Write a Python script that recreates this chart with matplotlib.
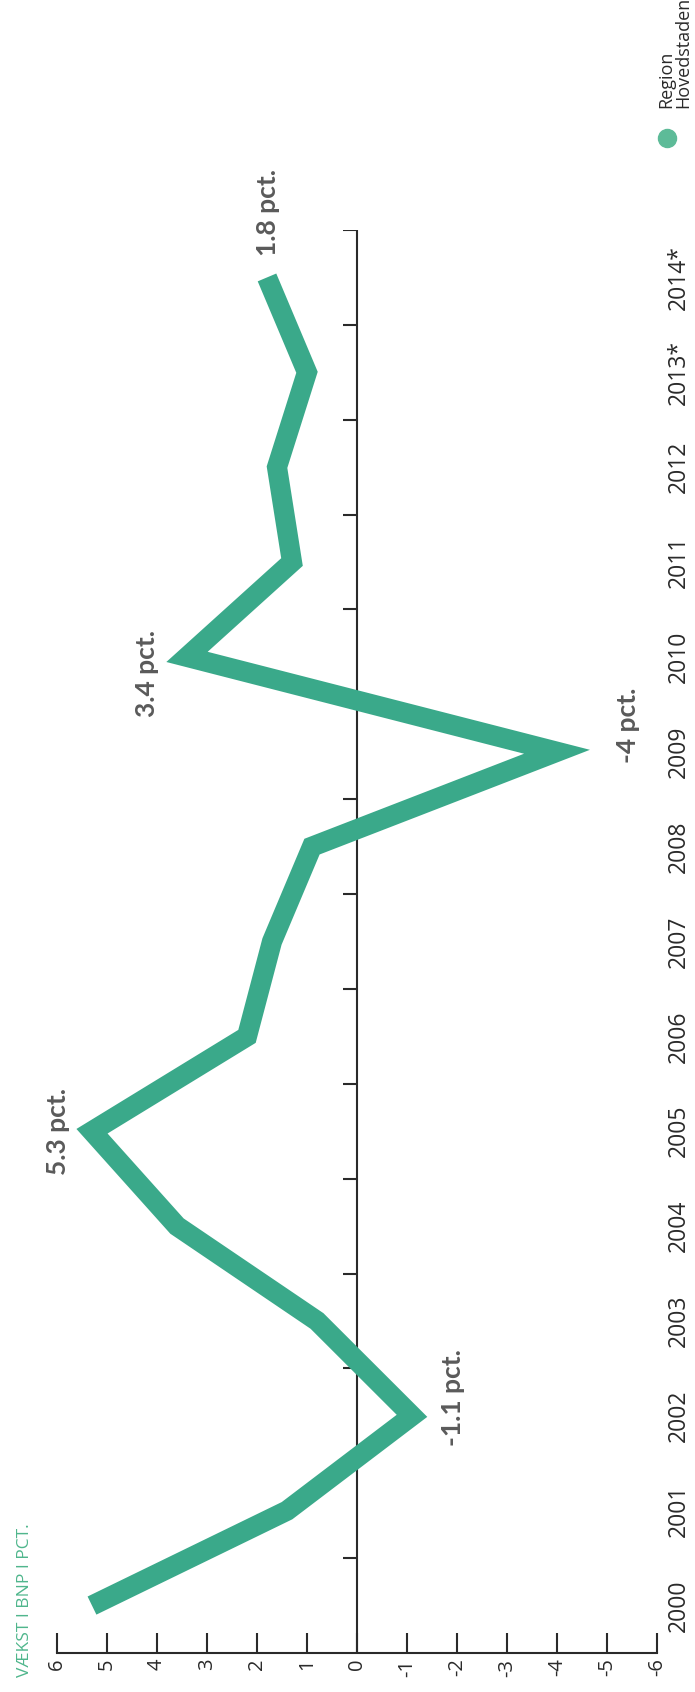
import matplotlib
matplotlib.use("Agg")
import matplotlib.pyplot as plt
import matplotlib.transforms as mtransforms

# ---- data ----
years = ["2000", "2001", "2002", "2003", "2004", "2005", "2006", "2007",
         "2008", "2009", "2010", "2011", "2012", "2013*", "2014*"]
growth = [5.3, 1.4, -1.1, 0.8, 3.6, 5.3, 2.2, 1.7, 0.9, -4.0, 3.4, 1.3, 1.6, 1.0, 1.8]
value_ticks = [6, 5, 4, 3, 2, 1, 0, -1, -2, -3, -4, -5, -6]
annot_idx = [14, 5, 2, 9, 10]
annot_text = ["1.8 pct.", "5.3 pct.", "-1.1 pct.", "-4 pct.", "3.4 pct."]
annot_offset = [(1, 65), (-34, 0), (41, 18), (71, 26), (-40, -17)]
series_name = "Region\nHovedstaden"
axis_title = "VÆKST I BNP I PCT."

LINE = "#3aa98a"
DOT = "#5dbb98"
TITLE_C = "#4fb68c"
GREY = "#5a5a5a"
DARK = "#2a2a2a"
FONT = ["Open Sans", "DejaVu Sans"]

plt.rcParams['font.family'] = FONT

W, H = 695, 1692
fig = plt.figure(figsize=(W / 100, H / 100), dpi=100)

left, right, top, bottom = 57, 657, 230, 1653
ax = fig.add_axes([left / W, 1 - bottom / H, (right - left) / W, (bottom - top) / H])

idx = list(range(len(years)))
ax.plot(growth, idx, color=LINE, lw=14.5, solid_joinstyle="miter",
        solid_capstyle="butt", zorder=3)

ax.set_xlim(6, -6)
ax.set_ylim(-0.5, len(years) - 0.5)

for s in ["top", "right", "left"]:
    ax.spines[s].set_visible(False)
ax.spines["bottom"].set_linewidth(1.5)
ax.spines["bottom"].set_color(DARK)

ax.set_xticks(value_ticks)
ax.set_xticklabels([str(v) for v in value_ticks], rotation=90,
                   fontsize=14.5, color=DARK, fontweight="normal")
ax.tick_params(axis="x", direction="in", length=14.5, width=1.5, color=DARK, pad=4)
ax.set_yticks([])

# zero axis with year boundary ticks
ax.axvline(0, color=DARK, lw=1.5, zorder=2)
ax.hlines([i + 0.5 for i in idx], 0, 0.28, color=DARK, lw=1.5, zorder=2)

# year labels
trans = mtransforms.blended_transform_factory(ax.transAxes, ax.transData)
for i, y in enumerate(years):
    ax.text(1.037, i, y, rotation=90, ha="center", va="center", transform=trans,
            fontsize=16.5, color=DARK, fontweight="normal")

# annotations
for i, t, (dx, dy) in zip(annot_idx, annot_text, annot_offset):
    ax.annotate(t, xy=(growth[i], i), xytext=(dx, dy), textcoords="offset pixels",
                rotation=90, ha="center", va="center", fontsize=19,
                fontweight="bold", color=GREY, annotation_clip=False,
                family=["Lato", "DejaVu Sans"])

# axis title
fig.text(25 / W, 1 - 1677 / H, axis_title, rotation=90, ha="center", va="bottom",
         fontsize=12.5, color=TITLE_C, fontweight="normal")

# legend
fig.add_artist(plt.Line2D([667 / W], [1 - 138 / H], marker="o", markersize=13,
                          color=DOT, transform=fig.transFigure, linestyle="none"))
fig.text(692 / W, 1 - 108 / H, series_name, rotation=90, ha="right", va="bottom",
         multialignment="left", fontsize=13, color=DARK, fontweight="normal",
         linespacing=0.88)

fig.savefig("out.png", dpi=100)
